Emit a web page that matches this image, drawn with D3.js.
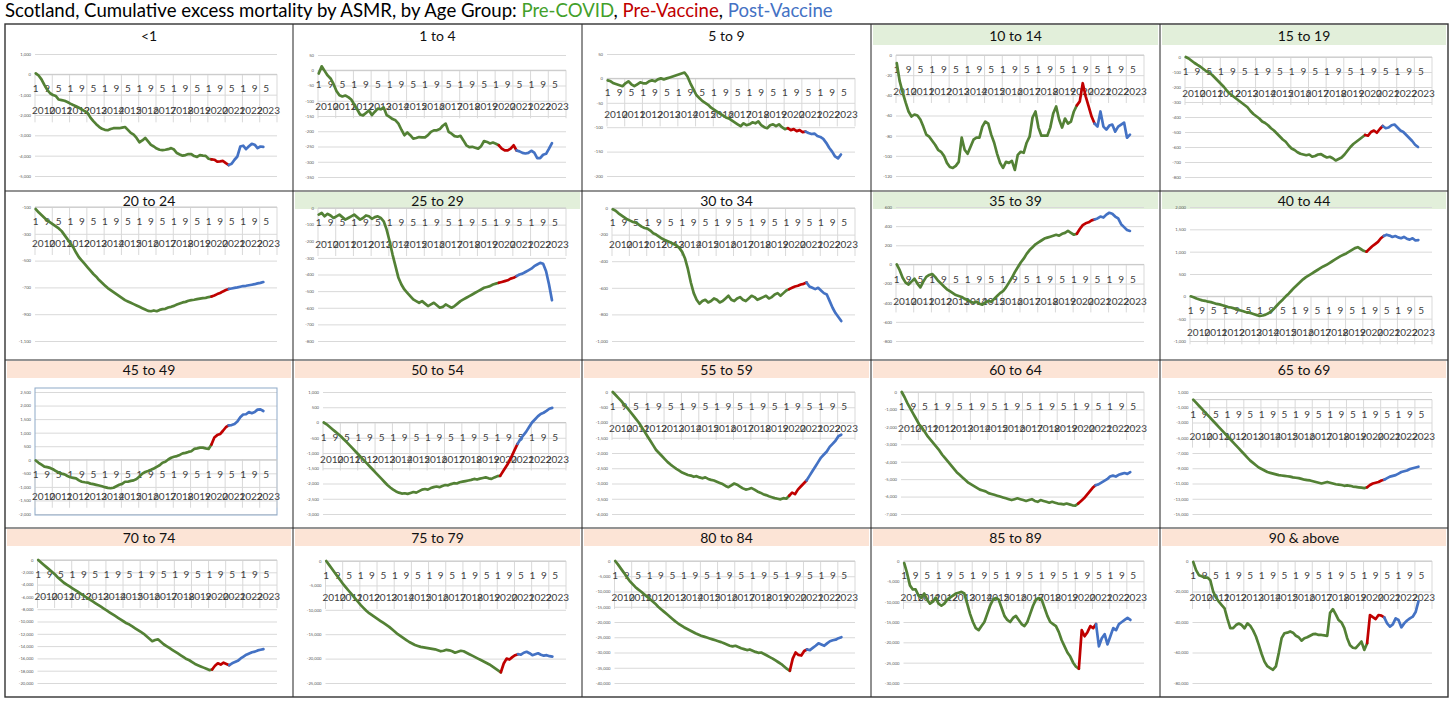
<!DOCTYPE html>
<html><head><meta charset="utf-8">
<script src="https://cdn.jsdelivr.net/npm/d3@7"></script>
<style>body{margin:0;background:#fff;} svg{display:block;font-family:Lato,'Open Sans',sans-serif;}</style>
</head><body><svg id="c" width="1456" height="706"></svg>
<script>
// ---------------- DATA ----------------
const panelTitles = ["<1","1 to 4","5 to 9","10 to 14","15 to 19",
  "20 to 24","25 to 29","30 to 34","35 to 39","40 to 44",
  "45 to 49","50 to 54","55 to 59","60 to 64","65 to 69",
  "70 to 74","75 to 79","80 to 84","85 to 89","90 & above"];
const headerKind = ["","","","g","g", "","g","","g","g", "p","p","p","p","p", "p","p","p","p","p"];
// y ticks: [max, min, step]
const yTickSpec = [[1000,-5000,1000],[50,-350,50],[50,-200,50],[0,-120,20],[0,-800,100],
  [-100,-1100,200],[0,-800,100],[0,-1000,200],[600,-800,200],[2000,-1000,500],
  [2500,-2000,500],[1000,-3000,500],[0,-4000,500],[0,-7000,1000],[1000,-15000,2000],
  [0,-20000,2000],[0,-25000,5000],[0,-40000,5000],[0,-30000,5000],[0,-80000,20000]];
const years = d3.range(2010,2024).map(String);
const monthNumbers = [1,2,3,4,5,6,7,8,9,10,11,12];
const monthLabelEvery = 8;
const sampleStep = 2;          // one value every 2 months from Jan 2010
const redStart = 122, blueStart = 134;  // month indices (Mar 2020, Mar 2021)

const s_lt1 = [50,-60,-250,-520,-760,-930,-1020,-1070,-1240,-1270,-1300,-1360,-1440,-1510,-1570,-1640,-1730,-1810,-1900,-2130,-2300,-2450,-2580,-2680,-2730,-2750,-2690,-2650,-2640,-2650,-2620,-2590,-2730,-2880,-2970,-3130,-3340,-3250,-3130,-3300,-3470,-3550,-3650,-3710,-3730,-3710,-3680,-3630,-3700,-3870,-3940,-4000,-3970,-3920,-3920,-4020,-4060,-3970,-4000,-4010,-4150,-4180,-4200,-4290,-4280,-4260,-4370,-4460,-4400,-4200,-4040,-3550,-3510,-3680,-3540,-3420,-3460,-3630,-3550,-3570];
const s_1to4 = [-11,13,-2,-17,-27,-45,-68,-82,-86,-83,-88,-96,-112,-128,-145,-148,-140,-132,-147,-136,-126,-128,-122,-147,-153,-160,-164,-175,-195,-213,-204,-213,-224,-222,-219,-220,-220,-213,-202,-197,-197,-193,-182,-175,-202,-208,-216,-218,-215,-230,-246,-252,-251,-254,-257,-249,-232,-235,-240,-237,-241,-246,-257,-263,-263,-257,-246,-263,-266,-271,-273,-271,-264,-270,-288,-288,-277,-274,-257,-239];
const s_5to9 = [-4,-6,-10,-12,-14,-16,-10,-6,-12,-16,-12,-8,-10,-10,-6,-4,-6,-2,0,-2,0,2,4,6,8,10,12,4,-10,-22,-34,-40,-46,-50,-54,-60,-64,-68,-72,-76,-80,-82,-86,-90,-94,-98,-92,-96,-94,-90,-92,-88,-96,-100,-102,-96,-94,-98,-94,-100,-104,-102,-106,-104,-108,-106,-110,-109,-112,-114,-113,-118,-120,-124,-132,-142,-150,-160,-164,-156];
const s_10to14 = [-8,-26,-37,-47,-56,-61,-59,-60,-64,-71,-79,-81,-85,-89,-94,-96,-100,-107,-111,-112,-110,-106,-82,-94,-98,-91,-84,-82,-82,-71,-66,-68,-79,-87,-98,-107,-112,-106,-107,-105,-114,-99,-96,-97,-87,-81,-62,-56,-72,-80,-80,-80,-72,-58,-51,-64,-72,-63,-68,-66,-56,-50,-46,-28,-41,-51,-61,-68,-71,-56,-71,-74,-70,-69,-76,-71,-69,-67,-82,-79];
const s_15to19 = [0,-10,-25,-40,-53,-65,-80,-95,-105,-120,-140,-160,-180,-200,-225,-245,-260,-275,-290,-305,-320,-335,-360,-380,-395,-410,-430,-440,-455,-475,-490,-510,-530,-550,-565,-590,-610,-620,-635,-645,-650,-655,-650,-665,-660,-650,-647,-660,-670,-665,-675,-690,-680,-670,-650,-625,-600,-580,-565,-550,-535,-520,-525,-500,-490,-505,-480,-460,-475,-470,-455,-450,-470,-490,-500,-520,-540,-560,-585,-600];
const s_20to24 = [-115,-140,-160,-180,-200,-215,-230,-245,-260,-280,-310,-340,-370,-400,-440,-475,-500,-525,-550,-575,-600,-620,-645,-665,-685,-705,-720,-735,-750,-765,-780,-795,-805,-815,-825,-835,-845,-855,-865,-875,-878,-872,-878,-868,-862,-860,-850,-845,-838,-828,-820,-812,-808,-800,-795,-792,-788,-784,-780,-778,-772,-768,-760,-750,-742,-730,-720,-712,-708,-704,-700,-695,-690,-688,-684,-680,-676,-670,-666,-660];
const s_25to29 = [-40,-30,-50,-35,-45,-60,-50,-40,-55,-70,-60,-50,-40,-55,-70,-60,-45,-50,-65,-55,-50,-60,-80,-130,-200,-280,-350,-420,-460,-490,-510,-530,-550,-560,-570,-560,-575,-590,-580,-570,-585,-600,-595,-580,-590,-600,-590,-575,-560,-550,-540,-530,-520,-510,-500,-490,-480,-475,-470,-460,-455,-450,-445,-440,-435,-425,-420,-410,-400,-395,-385,-375,-365,-350,-340,-330,-335,-380,-460,-555];
const s_30to34 = [-10,-20,-40,-55,-70,-85,-95,-105,-110,-125,-140,-150,-155,-170,-190,-200,-215,-230,-240,-250,-260,-270,-280,-300,-330,-380,-460,-560,-640,-690,-720,-700,-690,-710,-700,-680,-690,-710,-700,-680,-660,-690,-700,-680,-670,-690,-700,-680,-660,-670,-690,-680,-670,-660,-680,-670,-650,-640,-660,-640,-620,-610,-600,-590,-585,-575,-570,-560,-590,-600,-610,-600,-620,-640,-650,-700,-750,-790,-820,-850];
const s_35to39 = [0,-60,-140,-190,-210,-180,-150,-200,-240,-180,-130,-110,-100,-130,-170,-200,-230,-260,-280,-300,-320,-330,-340,-360,-370,-390,-400,-390,-410,-420,-400,-380,-390,-360,-330,-300,-280,-240,-190,-140,-80,-30,20,60,110,150,180,210,230,250,270,280,290,300,310,300,320,330,350,330,310,320,370,410,430,440,460,470,480,500,490,520,540,530,500,480,420,390,360,350];
const s_40to44 = [0,-20,-50,-70,-90,-100,-120,-130,-150,-170,-180,-200,-220,-240,-250,-270,-290,-310,-330,-350,-360,-380,-400,-420,-440,-430,-410,-380,-330,-270,-200,-130,-70,0,60,130,200,260,320,380,430,470,510,550,590,630,670,700,740,780,820,860,900,930,960,1000,1040,1080,1100,1060,1020,1000,1060,1120,1170,1220,1300,1350,1380,1360,1330,1350,1320,1300,1330,1290,1270,1300,1250,1260];
const s_45to49 = [-25,-110,-180,-250,-270,-300,-350,-415,-475,-510,-540,-600,-645,-665,-685,-760,-810,-830,-840,-880,-900,-925,-950,-975,-1010,-1035,-1050,-1030,-975,-920,-890,-810,-810,-780,-760,-710,-620,-510,-450,-415,-370,-320,-260,-200,-110,-75,10,75,110,135,180,235,255,290,315,400,420,450,450,420,400,560,820,910,950,1070,1200,1270,1280,1320,1410,1570,1670,1680,1760,1720,1760,1850,1860,1800];
const s_50to54 = [0,-60,-140,-220,-300,-380,-460,-560,-650,-750,-850,-950,-1050,-1150,-1250,-1350,-1450,-1550,-1650,-1750,-1850,-1950,-2050,-2130,-2200,-2260,-2300,-2330,-2320,-2340,-2310,-2280,-2300,-2250,-2200,-2180,-2200,-2150,-2120,-2100,-2120,-2080,-2050,-2060,-2020,-1990,-2000,-1960,-1940,-1920,-1900,-1880,-1850,-1870,-1840,-1820,-1800,-1830,-1850,-1800,-1760,-1750,-1600,-1450,-1300,-1100,-900,-700,-550,-420,-300,-150,0,100,200,280,320,380,450,480];
const s_55to59 = [0,-100,-200,-300,-420,-520,-640,-760,-880,-1000,-1150,-1300,-1450,-1600,-1750,-1900,-2000,-2100,-2200,-2300,-2380,-2450,-2520,-2580,-2640,-2680,-2720,-2740,-2780,-2760,-2800,-2830,-2800,-2850,-2880,-2900,-2940,-2980,-3020,-3080,-3120,-3060,-3000,-3040,-3100,-3160,-3200,-3180,-3150,-3200,-3260,-3300,-3350,-3380,-3420,-3450,-3480,-3500,-3520,-3480,-3500,-3400,-3300,-3350,-3200,-3100,-3000,-2900,-2750,-2600,-2450,-2300,-2150,-2050,-1950,-1800,-1700,-1600,-1450,-1400];
const s_60to64 = [0,-300,-650,-950,-1250,-1550,-1850,-2050,-2300,-2550,-2750,-2950,-3150,-3350,-3600,-3800,-4000,-4200,-4400,-4600,-4750,-4900,-5050,-5200,-5300,-5400,-5500,-5600,-5650,-5700,-5800,-5850,-5900,-5950,-6000,-6050,-6100,-6150,-6200,-6150,-6100,-6150,-6200,-6250,-6200,-6150,-6250,-6300,-6200,-6250,-6300,-6350,-6300,-6350,-6400,-6420,-6450,-6400,-6450,-6500,-6520,-6400,-6250,-6100,-5900,-5700,-5500,-5350,-5300,-5200,-5100,-5000,-4850,-4800,-4850,-4750,-4700,-4650,-4700,-4600];
const s_65to69 = [0,-400,-800,-1200,-1600,-2000,-2400,-2800,-3200,-3600,-4000,-4400,-4800,-5200,-5600,-6000,-6400,-6800,-7200,-7600,-8000,-8300,-8600,-8900,-9100,-9300,-9500,-9600,-9700,-9800,-9900,-9950,-10000,-10050,-10100,-10200,-10250,-10300,-10400,-10500,-10550,-10600,-10700,-10800,-10900,-11000,-10900,-10800,-10900,-11000,-11100,-11150,-11200,-11300,-11250,-11300,-11400,-11450,-11500,-11550,-11600,-11500,-11200,-11000,-10900,-10800,-10600,-10500,-10300,-10100,-10000,-9900,-9700,-9500,-9400,-9300,-9100,-9000,-8900,-8800];
const s_70to74 = [0,-400,-800,-1200,-1600,-2000,-2400,-2900,-3300,-3700,-4000,-4300,-4600,-4900,-5200,-5500,-5800,-6100,-6400,-6700,-7000,-7300,-7600,-7900,-8200,-8500,-8800,-9100,-9400,-9700,-10000,-10300,-10500,-10800,-11100,-11400,-11700,-12000,-12400,-12800,-13200,-13000,-12900,-13300,-13700,-14000,-14300,-14600,-14900,-15200,-15500,-15800,-16100,-16300,-16600,-16900,-17100,-17300,-17500,-17700,-17900,-17800,-17200,-16800,-17000,-16700,-16900,-17100,-16800,-16600,-16400,-16000,-15700,-15400,-15200,-15000,-14900,-14700,-14600,-14500];
const s_75to79 = [0,-800,-1600,-2400,-3200,-4000,-4800,-5500,-6200,-6900,-7600,-8300,-9000,-9600,-10200,-10700,-11100,-11500,-11900,-12300,-12700,-13100,-13500,-14000,-14500,-15000,-15400,-15800,-16200,-16600,-16900,-17200,-17400,-17600,-17700,-17800,-17900,-18000,-18100,-18300,-18500,-18400,-18200,-18300,-18500,-18800,-18600,-18400,-18500,-18800,-19100,-19400,-19700,-20000,-20300,-20600,-20900,-21200,-21600,-22000,-22400,-22800,-21000,-20000,-20200,-19700,-19300,-19100,-19200,-18800,-18600,-18900,-19300,-19100,-18900,-19200,-19400,-19300,-19500,-19600];
const s_80to84 = [0,-1200,-2500,-3800,-5200,-6500,-7500,-8500,-9300,-10000,-10800,-11600,-12400,-13200,-14000,-15000,-15800,-16600,-17400,-18200,-19000,-19800,-20500,-21100,-21700,-22200,-22700,-23200,-23700,-24100,-24500,-24800,-25100,-25400,-25700,-26000,-26300,-26600,-27000,-27400,-27800,-28000,-27800,-28200,-28600,-28900,-29200,-29000,-29400,-29800,-30100,-30000,-30500,-31000,-31500,-32000,-32600,-33200,-33800,-34600,-35400,-36000,-32000,-30000,-30800,-31000,-29500,-29000,-29200,-28500,-27800,-27000,-27400,-27800,-27000,-26300,-26000,-25800,-25300,-25000];
const s_85to89 = [-500,-3000,-6000,-7000,-7000,-8500,-9000,-8000,-9500,-10500,-10000,-9000,-10500,-11000,-10500,-9500,-9000,-8500,-8000,-7800,-7600,-8000,-10500,-13000,-15000,-16500,-17000,-16000,-15000,-13000,-11000,-9500,-9100,-9500,-11500,-13500,-14500,-15000,-14000,-13500,-14500,-15500,-16000,-15000,-13000,-11000,-9500,-9100,-9500,-11500,-13500,-15000,-15500,-16000,-17500,-19500,-21000,-22500,-23500,-25000,-26000,-26500,-17000,-18500,-17500,-16000,-16500,-15500,-21000,-19000,-18000,-20500,-18500,-16500,-17000,-15500,-15000,-14500,-14000,-14500];
const s_90plus = [-600,-6000,-9300,-10000,-10900,-10900,-12600,-20000,-24000,-26700,-28900,-31100,-38000,-44000,-44000,-42000,-41000,-42000,-44100,-40900,-42500,-45500,-49500,-55000,-61000,-66000,-69000,-70200,-71300,-69100,-60400,-50600,-47400,-47000,-46200,-47000,-49000,-50000,-52200,-50600,-50000,-49000,-48000,-47800,-48500,-48500,-48800,-49100,-34000,-31600,-35000,-38700,-40300,-44000,-50600,-55300,-56900,-57200,-55000,-52800,-58300,-53900,-35400,-36800,-38100,-35400,-35800,-37000,-40900,-43000,-41600,-37600,-38700,-43500,-40900,-39000,-37600,-36500,-33500,-26500];
const seriesList = [s_lt1,s_1to4,s_5to9,s_10to14,s_15to19,s_20to24,s_25to29,s_30to34,s_35to39,s_40to44,
  s_45to49,s_50to54,s_55to59,s_60to64,s_65to69,s_70to74,s_75to79,s_80to84,s_85to89,s_90plus];

// ---------------- LAYOUT ----------------
const colX=[5,293,582,871,1160,1448];
const rowY=[24,191,360,528,697];
const hdrH=[20,17,17,17];
// plot box per panel: [top, bottom] in px
const plotBox = [[54,176],[55,177],[54,176],[55,176],[57,177],
  [207,341],[208,341],[208,341],[207,341],[207,341],
  [392,514],[392,514],[392,514],[392,514],[392,514],
  [560,683],[561,683],[561,683],[561,683],[561,683]];
const C = {green:"#538135", red:"#C00000", blue:"#4472C4", grid:"#D9D9D9", txt:"#595959",
  hdrG:"#E2EFDA", hdrP:"#FCE4D6"};

const svg=d3.select("#c");
const fmt=d3.formatLocale({decimal:".",thousands:",",grouping:[3],currency:["",""],minus:"-"}).format(",");

// title
const title=svg.append("text").attr("x",5).attr("y",17).attr("font-size",20).attr("fill","#000");
[["Scotland, Cumulative excess mortality by ASMR, by Age Group: ","#000"],["Pre-COVID","#43A02B"],[", ","#000"],
 ["Pre-Vaccine",C.red],[", ","#000"],["Post-Vaccine",C.blue]].forEach(([t,c])=>title.append("tspan").attr("fill",c).text(t));
const tw=title.node().getComputedTextLength();
title.attr("font-size",20*828/tw);

for(let i=0;i<20;i++){
  const col=i%5,row=Math.floor(i/5);
  const x0=colX[col],x1=colX[col+1],y0=rowY[row],y1=rowY[row+1];
  const g=svg.append("g");
  if(headerKind[i]) g.append("rect").attr("x",x0+2).attr("y",y0+1).attr("width",x1-x0-4).attr("height",hdrH[row])
     .attr("fill",headerKind[i]==="g"?C.hdrG:C.hdrP);
  g.append("text").attr("x",(x0+x1)/2).attr("y",y0+1+hdrH[row]/2).attr("text-anchor","middle")
   .attr("dominant-baseline","central").attr("font-size",14).attr("fill","#111").text(panelTitles[i]);

  const [tMax,tMin,tStep]=yTickSpec[i];
  const tickVals=d3.range(tMax,tMin-tStep/2,-tStep);
  const maxLen=d3.max(tickVals,v=>fmt(v).length);
  const pl=x0+15+2.5*maxLen, pr=x1-16, pt=plotBox[i][0], pb=plotBox[i][1];
  const y=d3.scaleLinear().domain([tMin,tMax]).range([pb,pt]);
  const x=d3.scaleBand().domain(d3.range(168)).range([pl,pr]);
  const yr=d3.scaleBand().domain(years).range([pl,pr]);

  const ya=g.append("g").attr("transform",`translate(${pl},0)`)
    .call(d3.axisLeft(y).tickValues(tickVals).tickSize(-(pr-pl)).tickPadding(4).tickFormat(fmt));
  ya.select(".domain").remove();
  ya.selectAll(".tick line").attr("stroke",C.grid);
  ya.selectAll(".tick text").attr("font-size",4.2).attr("fill",C.txt).attr("font-family","Lato,sans-serif");

  if(i===10) g.append("rect").attr("x",pl).attr("y",pt-4).attr("width",pr-pl).attr("height",pb-pt+5)
      .attr("fill","none").attr("stroke","#8EA9C8").attr("stroke-width",1);

  const axisV = (tMin<=0 && tMax>=0)?0:(tMax<0?tMax:tMin);
  const ay=y(axisV);
  g.selectAll(null).data(d3.range(0,169,12)).join("line")
    .attr("x1",d=>pl+d*x.step()).attr("x2",d=>pl+d*x.step()).attr("y1",ay).attr("y2",ay+48)
    .attr("stroke",C.grid).attr("stroke-width",1);
  g.append("line").attr("x1",pl).attr("x2",pr).attr("y1",ay).attr("y2",ay).attr("stroke","#C8C8C8");
  const ma=g.append("g").attr("transform",`translate(0,${ay})`)
    .call(d3.axisBottom(x).tickValues(d3.range(0,168,monthLabelEvery)).tickSize(0).tickPadding(11)
      .tickFormat(d=>monthNumbers[d%12]));
  ma.select(".domain").remove();
  ma.selectAll("text").attr("font-size",10).attr("fill","#404040").attr("font-family","Lato,sans-serif");
  const yra=g.append("g").attr("transform",`translate(0,${ay+25})`)
    .call(d3.axisBottom(yr).tickSize(0).tickPadding(8));
  yra.select(".domain").remove();
  yra.selectAll("text").attr("font-size",10).attr("fill","#404040").attr("font-family","Lato,sans-serif");

  const vals=seriesList[i];
  if(vals.length){
    const pts=vals.map((v,k)=>({m:k*sampleStep,v}));
    const line=d3.line().x(d=>x(d.m)+x.bandwidth()/2).y(d=>y(d.v));
    const segs=[[pts.filter(d=>d.m<=redStart),C.green],[pts.filter(d=>d.m>=redStart&&d.m<=blueStart),C.red],[pts.filter(d=>d.m>=blueStart),C.blue]];
    segs.forEach(([p,c])=>g.append("path").attr("d",line(p)).attr("fill","none").attr("stroke",c)
      .attr("stroke-width",2.7).attr("stroke-linejoin","round").attr("stroke-linecap","round"));
  }
}
for(let r=1;r<4;r++) svg.append("line").attr("x1",colX[0]).attr("x2",colX[5]).attr("y1",rowY[r]).attr("y2",rowY[r]).attr("stroke","#6f6f6f").attr("stroke-width",1.6);
for(let c=1;c<5;c++) svg.append("line").attr("x1",colX[c]).attr("x2",colX[c]).attr("y1",rowY[0]).attr("y2",rowY[4]).attr("stroke","#222").attr("stroke-width",1);
svg.append("rect").attr("x",colX[0]).attr("y",rowY[0]).attr("width",colX[5]-colX[0]).attr("height",rowY[4]-rowY[0])
  .attr("fill","none").attr("stroke","#333").attr("stroke-width",1.4);
</script></body></html>
